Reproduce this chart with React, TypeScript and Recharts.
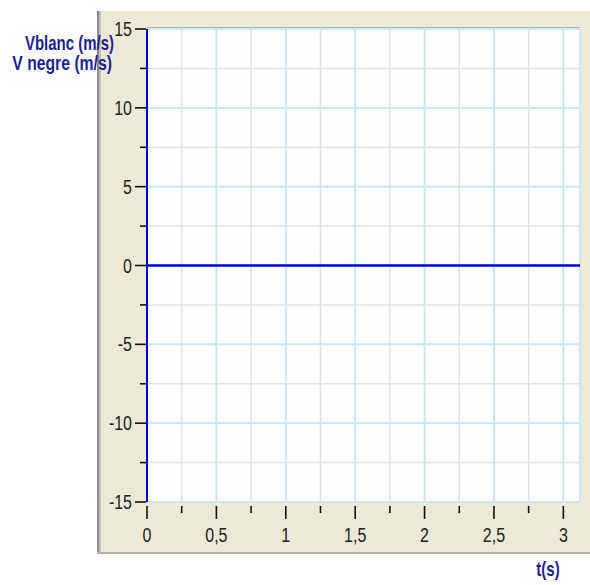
import React from 'react';
import { LineChart, Line, XAxis, YAxis, CartesianGrid } from 'recharts';

// ---- data ----
const T_S = [0, 0.5, 1, 1.5, 2, 2.5, 3, 3.12];
const V_BLANC = [0, 0, 0, 0, 0, 0, 0, 0];
const V_NEGRE = [0, 0, 0, 0, 0, 0, 0, 0];

const X_DOMAIN: [number, number] = [0, 3.12];
const Y_DOMAIN: [number, number] = [-15, 15];
const X_TICKS = [0, 0.25, 0.5, 0.75, 1, 1.25, 1.5, 1.75, 2, 2.25, 2.5, 2.75, 3];
const X_MAJOR = [0, 0.5, 1, 1.5, 2, 2.5, 3];
const Y_TICKS = [-15, -12.5, -10, -7.5, -5, -2.5, 0, 2.5, 5, 7.5, 10, 12.5, 15];
const Y_MAJOR = [-15, -10, -5, 0, 5, 10, 15];

const Y_TITLE_1 = 'Vblanc (m/s)';
const Y_TITLE_2 = 'V negre (m/s)';
const X_TITLE = 't(s)';

const data = T_S.map((t, i) => ({ t, vblanc: V_BLANC[i], vnegre: V_NEGRE[i] }));

const FONT = '"Liberation Sans", Arial, sans-serif';
const TICK_COLOR = '#222';
const TITLE_COLOR = '#1f1f8f';
const fmt = (v: number) => String(v).replace('.', ',');

const XTick = (props: any) => {
  const { x, y, payload } = props;
  const v = payload.value;
  const major = X_MAJOR.includes(v);
  return (
    <g>
      <line x1={x} x2={x} y1={y + 4} y2={y + (major ? 17 : 11)} stroke="#111" strokeWidth={1.6} />
      {major && (
        <text
          x={0}
          y={0}
          transform={`translate(${x},${y + 40}) scale(1,1.22)`}
          textAnchor="middle"
          fontFamily={FONT}
          fontSize={16}
          fill={TICK_COLOR}
        >
          {fmt(v)}
        </text>
      )}
    </g>
  );
};

const YTick = (props: any) => {
  const { x, y, payload } = props;
  const v = payload.value;
  const major = Y_MAJOR.includes(v);
  return (
    <g>
      <line x1={x - (major ? 12 : 7)} x2={x - 1} y1={y} y2={y} stroke="#111" strokeWidth={1.6} />
      {major && (
        <text
          x={0}
          y={0}
          transform={`translate(${x - 15},${y + 7}) scale(1,1.22)`}
          textAnchor="end"
          fontFamily={FONT}
          fontSize={16}
          fill={TICK_COLOR}
        >
          {fmt(v)}
        </text>
      )}
    </g>
  );
};

export default function App() {
  return (
    <div style={{ position: 'absolute', left: 0, top: 0, width: 590, height: 585, background: '#fff', overflow: 'hidden' }}>
      {/* panel */}
      <div style={{ position: 'absolute', left: 100, top: 11, width: 490, height: 541, background: '#ECE9D8' }} />
      <div style={{ position: 'absolute', left: 97, top: 11, width: 2, height: 543, background: '#8c8c8c' }} />
      <div style={{ position: 'absolute', left: 99, top: 11, width: 2, height: 543, background: '#c4c2b8' }} />
      <div style={{ position: 'absolute', left: 97, top: 552, width: 493, height: 2, background: '#b4b2a8' }} />
      <div style={{ position: 'absolute', left: 147, top: 27, width: 433, height: 1, background: '#b8b4a4' }} />
      <div style={{ position: 'absolute', left: 0, top: 0 }}>
        <LineChart width={590} height={585} data={data} margin={{ top: 29, right: 10, bottom: 43, left: 97 }}>
          <XAxis
            xAxisId="x"
            dataKey="t"
            type="number"
            domain={X_DOMAIN}
            ticks={X_TICKS}
            allowDataOverflow
            axisLine={false}
            tickLine={false}
            tickSize={0}
            tickMargin={0}
            height={40}
            interval={0}
            tick={<XTick />}
          />
          <XAxis xAxisId="xg" dataKey="t" type="number" domain={X_DOMAIN} ticks={X_MAJOR} allowDataOverflow hide />
          <YAxis
            yAxisId="y"
            type="number"
            domain={Y_DOMAIN}
            ticks={Y_TICKS}
            allowDataOverflow
            axisLine={{ stroke: '#0000ee', strokeWidth: 2 }}
            tickLine={false}
            tickSize={0}
            tickMargin={0}
            width={50}
            interval={0}
            tick={<YTick />}
          />
          <YAxis yAxisId="yg" type="number" domain={Y_DOMAIN} ticks={Y_MAJOR} allowDataOverflow hide />
          <CartesianGrid xAxisId="x" yAxisId="y" stroke="#e3e3e3" fill="#fefefe" strokeWidth={1.5} />
          <CartesianGrid xAxisId="xg" yAxisId="yg" stroke="#c6e7fa" strokeWidth={1.6} />
          <Line
            xAxisId="x"
            yAxisId="y"
            dataKey="vnegre"
            stroke="#0000ee"
            strokeWidth={2}
            dot={false}
            isAnimationActive={false}
          />
          <Line
            xAxisId="x"
            yAxisId="y"
            dataKey="vblanc"
            stroke="#0000ee"
            strokeWidth={2}
            dot={false}
            isAnimationActive={false}
          />
        </LineChart>
      </div>
      <svg width={590} height={585} style={{ position: 'absolute', left: 0, top: 0, pointerEvents: 'none' }}>
        <g fontFamily={FONT} fontWeight="bold" fontSize={15} fill={TITLE_COLOR}>
          <text x={0} y={0} transform="translate(114,50) scale(1,1.3)" textAnchor="end">{Y_TITLE_1}</text>
          <text x={0} y={0} transform="translate(112,70) scale(1.05,1.3)" textAnchor="end">{Y_TITLE_2}</text>
          <text x={0} y={0} transform="translate(548,576) scale(1,1.3)" textAnchor="middle">{X_TITLE}</text>
        </g>
      </svg>
    </div>
  );
}
